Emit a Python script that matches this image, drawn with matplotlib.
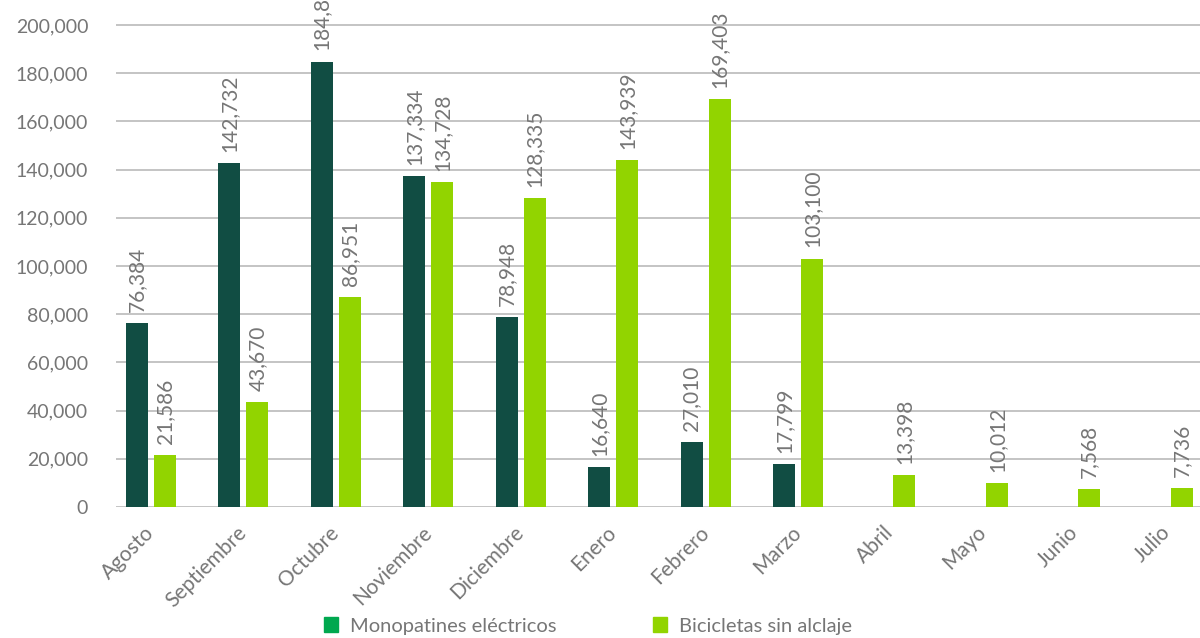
import matplotlib.pyplot as plt
import matplotlib.transforms as mtransforms
import numpy as np
from matplotlib.patches import Patch

months = ['Agosto', 'Septiembre', 'Octubre', 'Noviembre', 'Diciembre', 'Enero',
          'Febrero', 'Marzo', 'Abril', 'Mayo', 'Junio', 'Julio']
monopatines = [76384, 142732, 184846, 137334, 78948, 16640, 27010, 17799,
               None, None, None, None]
bicicletas = [21586, 43670, 86951, 134728, 128335, 143939, 169403, 103100,
              13398, 10012, 7568, 7736]

dark = '#114d43'
lime = '#92d400'
legend_dark = '#00a84f'
grey = '#767676'

plt.rcParams['font.family'] = ['Lato', 'DejaVu Sans']

fig = plt.figure(figsize=(12, 6.38), dpi=100)
ax = fig.add_axes([116 / 1200, 1 - 507 / 638, 1 - 116 / 1200, 507 / 638])

x = np.arange(len(months))
w = 0.238
off = 0.152


def label_bars(xs, vals):
    for xi, v in zip(xs, vals):
        if v is None:
            continue
        ax.annotate(f'{v:,}', (xi, v), xytext=(0, 8), textcoords='offset points',
                    rotation=90, ha='center', va='bottom', fontsize=15,
                    color=grey, annotation_clip=False)


mono_h = [0 if v is None else v for v in monopatines]
ax.bar(x - off, mono_h, width=w, color=dark, zorder=3)
ax.bar(x + off, bicicletas, width=w, color=lime, zorder=3)
label_bars(x - off, monopatines)
label_bars(x + off, bicicletas)

ax.set_xlim(-0.379, 11.35)
ax.set_ylim(0, 210400)
ax.set_yticks(range(0, 200001, 20000))
ax.set_yticklabels([f'{t:,}' for t in range(0, 200001, 20000)])
ax.yaxis.grid(True, color='#bfbfbf', linewidth=1.3, zorder=0)
ax.set_axisbelow(True)

ax.set_xticks(x)
ax.set_xticklabels(months, rotation=45, ha='right', rotation_mode='anchor')
ax.tick_params(axis='y', length=0, labelsize=14, labelcolor=grey, pad=20)
ax.tick_params(axis='x', length=0, labelsize=15, labelcolor=grey, pad=11)
shift = mtransforms.ScaledTranslation(-7 / 100, 0, fig.dpi_scale_trans)
for lab in ax.get_xticklabels():
    lab.set_transform(lab.get_transform() + shift)
for s in ax.spines.values():
    s.set_visible(False)

handles = [Patch(color=legend_dark, label='Monopatines eléctricos'),
           Patch(color=lime, label='Bicicletas sin alclaje')]
fig.legend(handles=handles, loc='center', bbox_to_anchor=(0.49, 1 - 626 / 638),
           ncol=2, frameon=False, fontsize=14.5, labelcolor=grey,
           handlelength=0.7, handleheight=0.7, columnspacing=4.8, handletextpad=0.6)

fig.savefig('out.png', dpi=100)
